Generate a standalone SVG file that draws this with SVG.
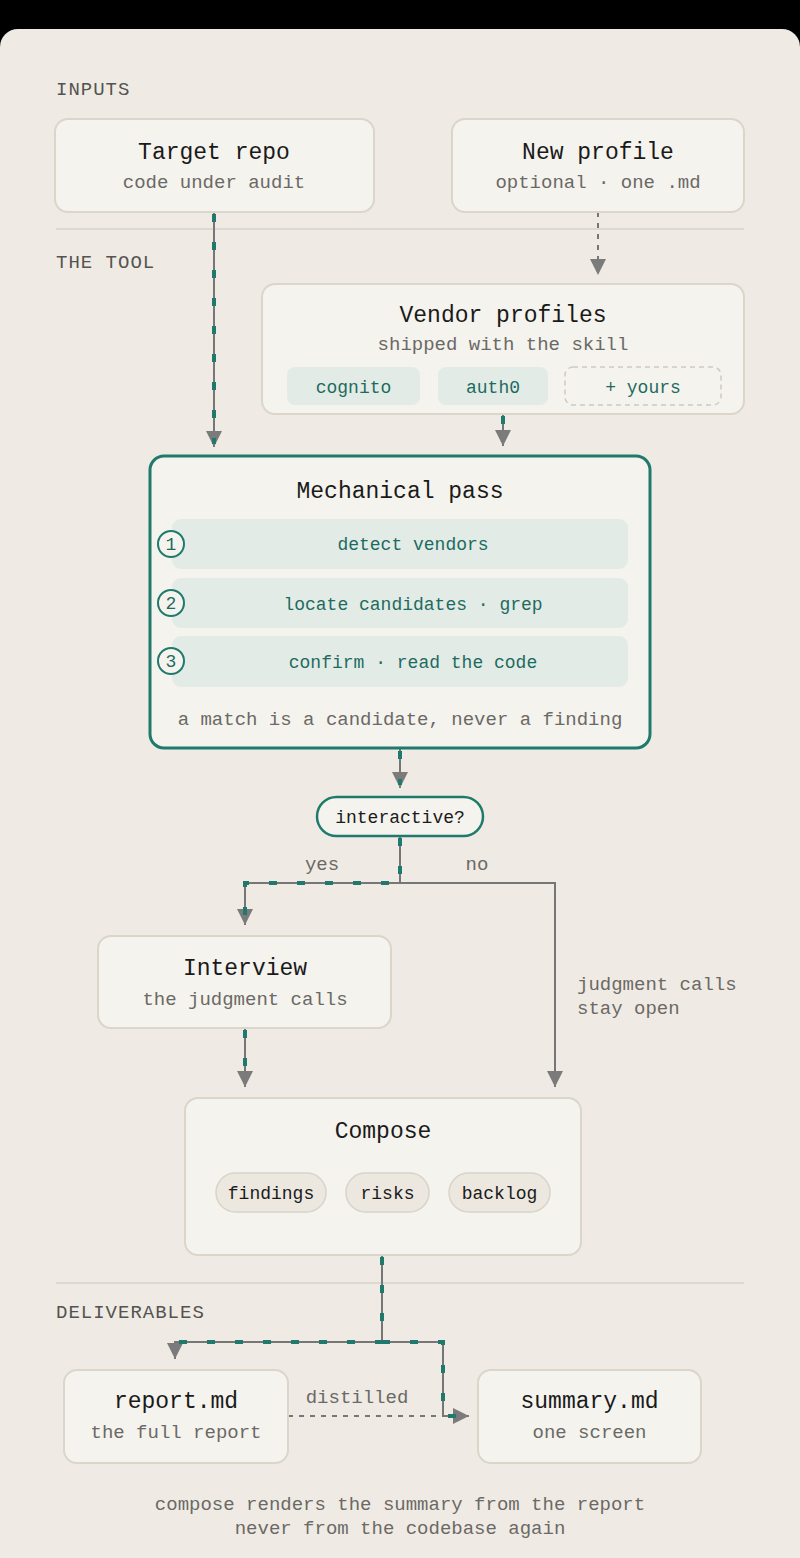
<svg xmlns="http://www.w3.org/2000/svg" width="800" height="1558" viewBox="0 0 800 1558">
<defs>
<style>
text{font-family:"Liberation Mono","DejaVu Sans Mono",monospace;}
.sec{font-size:19px;fill:#555350;letter-spacing:1px;}
.title{font-size:23px;fill:#1a1a1a;text-anchor:middle;}
.sub{font-size:19px;fill:#6b6965;text-anchor:middle;}
.tt{font-size:18px;fill:#1d6b5f;text-anchor:middle;}
.num{font-size:18px;fill:#1d6b5f;text-anchor:middle;}
.chipt{font-size:18px;fill:#1a1a1a;text-anchor:middle;}
.lbl{font-size:19px;fill:#6b6965;}
.node{fill:#f5f3ee;stroke:#dbd5ca;stroke-width:2;}
.pill{fill:#e3ebe6;}
.chip{fill:#ece8e0;stroke:#d9d3c8;stroke-width:1.5;}
.g{fill:none;stroke:#767676;stroke-width:2;}
.gd{fill:none;stroke:#767676;stroke-width:2;stroke-dasharray:5 6;}
.t{fill:none;stroke:#1f7a6d;stroke-width:4;stroke-dasharray:8 20;}
.div{stroke:#d8d2c8;stroke-width:1.5;}
</style>
<marker id="ah" viewBox="0 0 16 16" refX="16" refY="8" markerWidth="16" markerHeight="16" orient="auto" markerUnits="userSpaceOnUse">
<path d="M0,0 L16,8 L0,16 z" fill="#7b7b7b"/>
</marker>
</defs>
<rect x="0" y="0" width="800" height="1558" fill="#000"/>
<rect x="0" y="29" width="800" height="1560" rx="18" fill="#efebe4"/>

<g id="sections">
<text class="sec" x="56" y="95">INPUTS</text>
<line class="div" x1="56" y1="229" x2="744" y2="229"/>
<text class="sec" x="56" y="268">THE TOOL</text>
<line class="div" x1="56" y1="1283" x2="744" y2="1283"/>
<text class="sec" x="56" y="1318">DELIVERABLES</text>
</g>

<g id="connectors">
<path class="g" d="M214,212 V447" marker-end="url(#ah)"/>
<path class="t" d="M214,214 V444"/>
<path class="gd" d="M598,212 V275" marker-end="url(#ah)"/>
<path class="g" d="M503,414 V446" marker-end="url(#ah)"/>
<path class="t" d="M503,416 V443"/>
<path class="g" d="M400,749 V788" marker-end="url(#ah)"/>
<path class="t" d="M400,751 V785"/>
<path class="g" d="M400,836 V883 H245 V925" marker-end="url(#ah)"/>
<path class="t" d="M400,838 V883 H245 V922"/>
<path class="g" d="M400,883 H555 V1087" marker-end="url(#ah)"/>
<path class="g" d="M245,1028 V1087" marker-end="url(#ah)"/>
<path class="t" d="M245,1030 V1084"/>
<path class="g" d="M382,1255 V1342 H175 V1359" marker-end="url(#ah)"/>
<path class="t" d="M382,1257 V1342 H175 V1356"/>
<path class="gd" d="M288,1416 H443"/>
<path class="g" d="M382,1342 H443 V1416 H469" marker-end="url(#ah)"/>
<path class="t" d="M382,1342 H443 V1416 H462"/>
<text class="lbl" x="322" y="870" text-anchor="middle">yes</text>
<text class="lbl" x="477" y="870" text-anchor="middle">no</text>
<text class="lbl" x="577" y="990">judgment calls</text>
<text class="lbl" x="577" y="1014">stay open</text>
<text class="lbl" x="357" y="1403" text-anchor="middle">distilled</text>
</g>

<g id="target-repo">
<rect class="node" x="55" y="119" width="319" height="93" rx="13"/>
<text class="title" x="214" y="159">Target repo</text>
<text class="sub" x="214" y="188">code under audit</text>
</g>

<g id="new-profile">
<rect class="node" x="452" y="119" width="292" height="93" rx="13"/>
<text class="title" x="598" y="159">New profile</text>
<text class="sub" x="598" y="188">optional · one .md</text>
</g>

<g id="vendor-profiles">
<rect class="node" x="262" y="284" width="482" height="130" rx="13"/>
<text class="title" x="503" y="322">Vendor profiles</text>
<text class="sub" x="503" y="350">shipped with the skill</text>
<rect class="pill" x="287" y="367" width="133" height="38" rx="8"/>
<text class="tt" x="353.5" y="393">cognito</text>
<rect class="pill" x="438" y="367" width="110" height="38" rx="8"/>
<text class="tt" x="493" y="393">auth0</text>
<rect x="565" y="367" width="156" height="38" rx="8" fill="none" stroke="#d0cabf" stroke-width="1.5" stroke-dasharray="5 4"/>
<text class="tt" x="643" y="393">+ yours</text>
</g>

<g id="mechanical-pass">
<rect x="150" y="456" width="500" height="292" rx="14" fill="#f5f3ee" stroke="#1f7a6d" stroke-width="3"/>
<text class="title" x="400" y="498">Mechanical pass</text>
<rect class="pill" x="172" y="519" width="456" height="50" rx="9"/>
<rect class="pill" x="172" y="578" width="456" height="50" rx="9"/>
<rect class="pill" x="172" y="636" width="456" height="51" rx="9"/>
<circle cx="171" cy="544" r="13" fill="#f5f3ee" stroke="#1f7a6d" stroke-width="2"/>
<circle cx="171" cy="603" r="13" fill="#f5f3ee" stroke="#1f7a6d" stroke-width="2"/>
<circle cx="171" cy="661" r="13" fill="#f5f3ee" stroke="#1f7a6d" stroke-width="2"/>
<text class="num" x="171" y="550">1</text>
<text class="num" x="171" y="609">2</text>
<text class="num" x="171" y="667">3</text>
<text class="tt" x="413" y="550">detect vendors</text>
<text class="tt" x="413" y="610">locate candidates · grep</text>
<text class="tt" x="413" y="668">confirm · read the code</text>
<text class="sub" x="400" y="725">a match is a candidate, never a finding</text>
</g>

<g id="interactive">
<rect x="317" y="797" width="166" height="39" rx="19.5" fill="#f5f3ee" stroke="#1f7a6d" stroke-width="2.5"/>
<text class="chipt" x="400" y="823">interactive?</text>
</g>

<g id="interview">
<rect class="node" x="98" y="936" width="293" height="92" rx="13"/>
<text class="title" x="245" y="975">Interview</text>
<text class="sub" x="245" y="1005">the judgment calls</text>
</g>

<g id="compose">
<rect class="node" x="185" y="1098" width="396" height="157" rx="13"/>
<text class="title" x="383" y="1138">Compose</text>
<rect class="chip" x="216" y="1173" width="110" height="39" rx="19.5"/>
<text class="chipt" x="271" y="1199">findings</text>
<rect class="chip" x="346" y="1173" width="83" height="39" rx="19.5"/>
<text class="chipt" x="387.5" y="1199">risks</text>
<rect class="chip" x="449" y="1173" width="101" height="39" rx="19.5"/>
<text class="chipt" x="499.5" y="1199">backlog</text>
</g>

<g id="report">
<rect class="node" x="64" y="1370" width="224" height="93" rx="13"/>
<text class="title" x="176" y="1408">report.md</text>
<text class="sub" x="176" y="1438">the full report</text>
</g>

<g id="summary">
<rect class="node" x="478" y="1370" width="223" height="93" rx="13"/>
<text class="title" x="589.5" y="1408">summary.md</text>
<text class="sub" x="589.5" y="1438">one screen</text>
</g>

<g id="footer">
<text class="sub" x="400" y="1510">compose renders the summary from the report</text>
<text class="sub" x="400" y="1534">never from the codebase again</text>
</g>
</svg>
